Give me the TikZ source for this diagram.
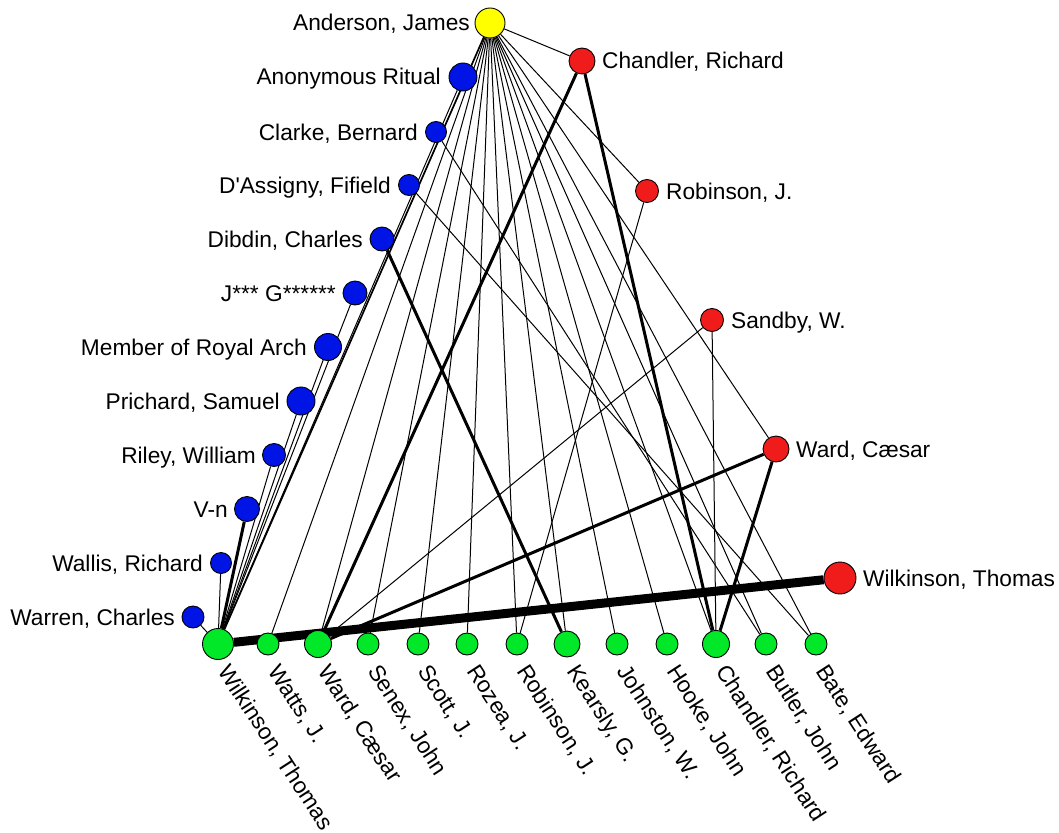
\documentclass[tikz,border=0pt]{standalone}
\usepackage{fontspec}
\setmainfont{Liberation Sans}
\usetikzlibrary{backgrounds}
\definecolor{ny}{RGB}{255,255,0}
\definecolor{nb}{RGB}{0,20,230}
\definecolor{nr}{RGB}{240,28,28}
\definecolor{ng}{RGB}{0,232,40}
\begin{document}
\begin{tikzpicture}[x=1pt,y=1pt,
  vtx/.style={circle,draw=black,line width=0.9pt,inner sep=0pt,minimum size=#1},
  lab/.style={inner sep=0pt,font=\fontsize{22.7}{27}\selectfont},
  edg/.style={line width=1pt,black},
  thk/.style={line width=3pt,black},
  ]
\useasboundingbox (0,0) rectangle (1059,-832);
% yellow
\node[vtx=30pt,fill=ny] (a) at (490,-23) {};
% blue
\node[vtx=28pt,fill=nb] (b1) at (463,-77) {};
\node[vtx=21pt,fill=nb] (b2) at (436,-132) {};
\node[vtx=21pt,fill=nb] (b3) at (409,-185) {};
\node[vtx=24pt,fill=nb] (b4) at (382,-239) {};
\node[vtx=24pt,fill=nb] (b5) at (355,-293) {};
\node[vtx=27pt,fill=nb] (b6) at (328,-347) {};
\node[vtx=28pt,fill=nb] (b7) at (301,-401) {};
\node[vtx=23pt,fill=nb] (b8) at (274,-455) {};
\node[vtx=25pt,fill=nb] (b9) at (247,-509) {};
\node[vtx=21pt,fill=nb] (b10) at (221,-563) {};
\node[vtx=22pt,fill=nb] (b11) at (193,-617) {};
% red
\node[vtx=26pt,fill=nr] (r1) at (582,-61) {};
\node[vtx=23pt,fill=nr] (r2) at (647,-191) {};
\node[vtx=23pt,fill=nr] (r3) at (712,-320) {};
\node[vtx=26pt,fill=nr] (r4) at (776,-449) {};
\node[vtx=32pt,fill=nr] (r5) at (840,-578) {};
% green
\node[vtx=31pt,fill=ng] (g1) at (218,-644) {};
\node[vtx=22pt,fill=ng] (g2) at (268,-644) {};
\node[vtx=27pt,fill=ng] (g3) at (318,-644) {};
\node[vtx=22pt,fill=ng] (g4) at (368,-644) {};
\node[vtx=22pt,fill=ng] (g5) at (418,-644) {};
\node[vtx=22pt,fill=ng] (g6) at (467,-644) {};
\node[vtx=22pt,fill=ng] (g7) at (517,-644) {};
\node[vtx=26pt,fill=ng] (g8) at (567,-644) {};
\node[vtx=22pt,fill=ng] (g9) at (617,-644) {};
\node[vtx=22pt,fill=ng] (g10) at (667,-644) {};
\node[vtx=27pt,fill=ng] (g11) at (716,-644) {};
\node[vtx=22pt,fill=ng] (g12) at (766,-644) {};
\node[vtx=22pt,fill=ng] (g13) at (816,-644) {};
% labels left
\node[lab,anchor=base east] (la) at (470,-31) {Anderson, James};
\node[lab,anchor=base east] (lb1) at (441,-85) {Anonymous Ritual};
\node[lab,anchor=base east] (lb2) at (418,-140) {Clarke, Bernard};
\node[lab,anchor=base east] (lb3) at (391,-193) {D\textquotesingle Assigny, Fifield};
\node[lab,anchor=base east] (lb4) at (363,-247) {Dibdin, Charles};
\node[lab,anchor=base east] (lb5) at (336,-301) {J*** G******};
\node[lab,anchor=base east] (lb6) at (307,-355) {Member of Royal Arch};
\node[lab,anchor=base east] (lb7) at (280,-409) {Prichard, Samuel};
\node[lab,anchor=base east] (lb8) at (256,-463) {Riley, William};
\node[lab,anchor=base east] (lb9) at (228,-517) {V-n};
\node[lab,anchor=base east] (lb10) at (203,-571) {Wallis, Richard};
\node[lab,anchor=base east] (lb11) at (175,-625) {Warren, Charles};
% labels right
\node[lab,anchor=base west] (lr1) at (602,-69) {Chandler, Richard};
\node[lab,anchor=base west] (lr2) at (666,-199) {Robinson, J.};
\node[lab,anchor=base west] (lr3) at (731,-328) {Sandby, W.};
\node[lab,anchor=base west] (lr4) at (796,-457) {Ward, Cæsar};
\node[lab,anchor=base west] (lr5) at (863,-586) {Wilkinson, Thomas};
% labels rotated
\foreach \n/\x/\t in {1/218/{Wilkinson, Thomas},2/268/{Watts, J.},3/318/{Ward, Cæsar},4/368/{Senex, John},5/418/{Scott, J.},6/467/{Rozea, J.},7/517/{Robinson, J.},8/567/{Kearsly, G.},9/617/{Johnston, W.},10/667/{Hooke, John},11/716/{Chandler, Richard},12/766/{Butler, John},13/816/{Bate, Edward}}
  \node[lab,anchor=base west,rotate=-57] (lg\n) at (\x-1,-671) {\t};
\begin{scope}[on background layer]
\foreach \g in {g2,g3,g4,g5,g6,g7,g8,g9,g10,g11,g12,g13}
  \draw[edg] (a) -- (\g);
\draw[line width=1.7pt] (a) -- (g1);
\draw[edg] (a) -- (r1);
\draw[edg] (a) -- (r2);
\draw[edg] (a) -- (r4);
\foreach \b in {b1,b5,b6,b7,b8,b10,b11}
  \draw[edg] (\b) -- (g1);
\draw[thk] (b9) -- (g1);
\draw[edg] (b2) -- (g12);
\draw[edg] (b3) -- (g13);
\draw[thk] (b4) -- (g8);
\draw[thk] (r1) -- (g3);
\draw[thk] (r1) -- (g11);
\draw[edg] (r2) -- (g7);
\draw[edg] (r3) -- (g3);
\draw[edg] (r3) -- (g11);
\draw[thk] (r4) -- (g3);
\draw[thk] (r4) -- (g11);
\draw[line width=9pt] (r5) -- (g1);
\end{scope}
\end{tikzpicture}
\end{document}
